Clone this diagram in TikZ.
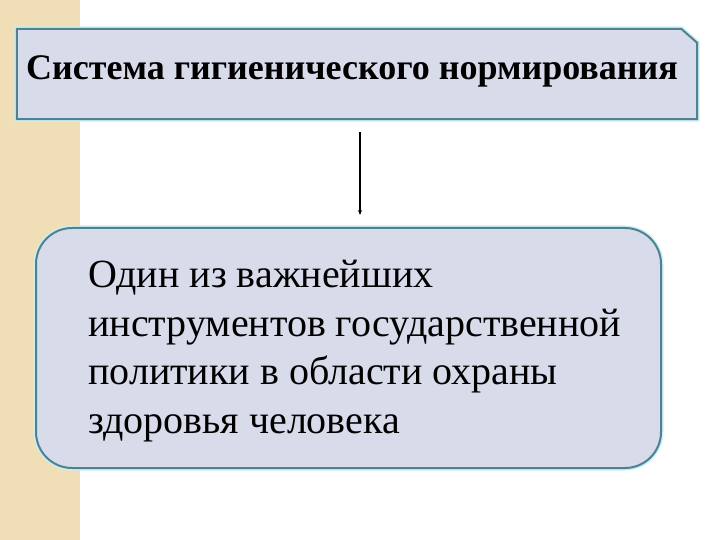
\documentclass[tikz,border=0pt]{standalone}
\usepackage{fontspec}
\setmainfont{Liberation Serif}
\usetikzlibrary{calc,arrows.meta}
\definecolor{stripbeige}{HTML}{F0DFB6}
\definecolor{boxfill}{HTML}{D8DBEA}
\definecolor{boxline}{HTML}{4F8290}
\definecolor{boxglow}{HTML}{CDEEF2}
\tikzset{
  glow/.style={draw=boxglow, line width=5pt},
  frame/.style={draw=boxline, line width=2pt, fill=boxfill},
}
\begin{document}
\begin{tikzpicture}[x=1pt,y=-1pt]
\useasboundingbox (0,0) rectangle (720,540);
\fill[stripbeige] (0,0) rectangle (80,540);
% top box
\node[minimum width=680pt, minimum height=90pt, inner sep=0pt] (top) at (357,74) {};
\path[glow] (top.north west) -- ($(top.north east)+(-16,0)$) -- ($(top.north east)+(0,14)$) -- (top.south east) -- (top.south west) -- cycle;
\path[frame] (top.north west) -- ($(top.north east)+(-16,0)$) -- ($(top.north east)+(0,14)$) -- (top.south east) -- (top.south west) -- cycle;
\node[anchor=base, inner sep=0pt, font=\fontsize{36}{42}\selectfont\bfseries] (toptext) at (352,80) {Система гигиенического нормирования};
% bottom box
\path[glow, rounded corners=36pt] (36,228) rectangle (661,468);
\node[frame, rounded corners=36pt, minimum width=625pt, minimum height=240pt, inner sep=0pt] (bot) at (348.5,348) {};
\node[anchor=north west, inner sep=0pt, align=left, font=\fontsize{40}{48.5}\selectfont] (bottext) at (88,260) {Один из важнейших\\инструментов государственной\\политики в области охраны\\здоровья человека};
% arrow
\draw[line width=1.6pt, -{Stealth[length=5pt,width=4pt]}] ($(top.south)+(3,13)$) -- ($(bot.north)+(11.5,-12)$);
\end{tikzpicture}
\end{document}
